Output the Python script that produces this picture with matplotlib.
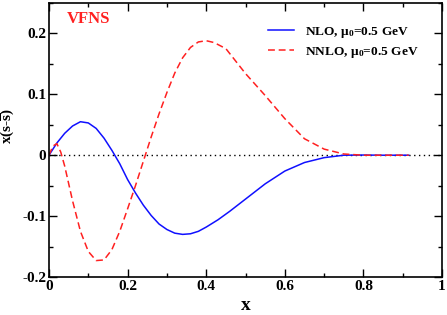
import matplotlib
matplotlib.use("Agg")
import matplotlib.pyplot as plt
from matplotlib.ticker import MultipleLocator

# --- valeurs ---
x_nlo = [0, 0.02, 0.04, 0.06, 0.08, 0.10, 0.12, 0.14, 0.16, 0.18, 0.20, 0.22,
         0.24, 0.26, 0.28, 0.30, 0.32, 0.34, 0.36, 0.38, 0.40, 0.43, 0.46,
         0.50, 0.55, 0.60, 0.65, 0.70, 0.75, 0.80, 0.85, 0.90, 0.915]
y_nlo = [0, 0.020, 0.036, 0.048, 0.055, 0.053, 0.044, 0.028, 0.008, -0.014,
         -0.040, -0.062, -0.082, -0.099, -0.113, -0.122, -0.128, -0.130,
         -0.129, -0.125, -0.118, -0.106, -0.092, -0.072, -0.047, -0.026,
         -0.012, -0.004, 0, 0.0003, 0, 0, 0]

x_nnlo = [0, 0.01, 0.02, 0.03, 0.04, 0.06, 0.08, 0.10, 0.12, 0.14, 0.16, 0.18,
          0.20, 0.22, 0.24, 0.26, 0.28, 0.30, 0.32, 0.34, 0.36, 0.38, 0.40,
          0.42, 0.45, 0.50, 0.55, 0.60, 0.65, 0.70, 0.75, 0.80, 0.85, 0.90, 0.915]
y_nnlo = [0, 0.015, 0.019, 0.005, -0.018, -0.075, -0.125, -0.158, -0.173,
          -0.172, -0.155, -0.125, -0.088, -0.050, -0.010, 0.030, 0.068, 0.103,
          0.135, 0.160, 0.177, 0.186, 0.188, 0.185, 0.175, 0.134, 0.098, 0.060,
          0.027, 0.010, 0.002, 0, 0, 0, 0]

labels = ["NLO, μ$_0$=0.5 GeV", "NNLO, μ$_0$=0.5 GeV"]

plt.rcParams['font.family'] = ['Liberation Serif', 'DejaVu Serif']
plt.rcParams['font.weight'] = 'bold'
plt.rcParams['mathtext.fontset'] = 'custom'
plt.rcParams['mathtext.rm'] = 'Liberation Serif:bold'
plt.rcParams['mathtext.it'] = 'Liberation Serif:bold'
plt.rcParams['mathtext.bf'] = 'Liberation Serif:bold'

fig = plt.figure(figsize=(4.47, 3.15), dpi=100)
ax = fig.add_axes([0.1096, 0.1206, 0.8794, 0.870])

ax.axhline(0, color='black', lw=1, ls=(0, (1, 2.5)))
ax.plot(x_nlo, y_nlo, color='#1010ff', lw=1.1, label=labels[0])
ax.plot(x_nnlo, y_nnlo, color='#ff2020', lw=1.1, ls=(0, (4.5, 2.5)), label=labels[1])

ax.set_xlim(0, 1)
ax.set_ylim(-0.2, 0.25)
ax.xaxis.set_minor_locator(MultipleLocator(0.1))
ax.yaxis.set_minor_locator(MultipleLocator(0.05))
ax.set_xticks([0, 0.2, 0.4, 0.6, 0.8, 1.0])
ax.set_xticklabels(['0', '0.2', '0.4', '0.6', '0.8', '1'])
ax.set_yticks([-0.2, -0.1, 0, 0.1, 0.2])
ax.set_yticklabels(['-0.2', '-0.1', '0', '0.1', '0.2'])
ax.tick_params(which='both', direction='in', top=True, right=True,
               labelsize=11, width=1, pad=2)
ax.tick_params(which='major', length=6)
ax.tick_params(which='minor', length=3)
for s in ax.spines.values():
    s.set_linewidth(1.2)

ax.set_xlabel('x', fontsize=14, fontweight='bold', labelpad=3)
ax.set_ylabel(r'x(s-$\overline{\mathrm{s}}$)', fontsize=11, fontweight='bold')
ax.yaxis.set_label_coords(-0.083, 0.55)

ax.text(0.045, 0.94, 'VFNS', transform=ax.transAxes, color='#ff2020',
        fontsize=12, fontweight='bold', va='center', ha='left')

ax.legend(loc='upper right', bbox_to_anchor=(0.94, 0.92), frameon=False,
          fontsize=9.6, handlelength=2.0, handletextpad=0.8, labelspacing=0.35,
          borderpad=0, borderaxespad=0)

fig.savefig('out.png', dpi=100)
